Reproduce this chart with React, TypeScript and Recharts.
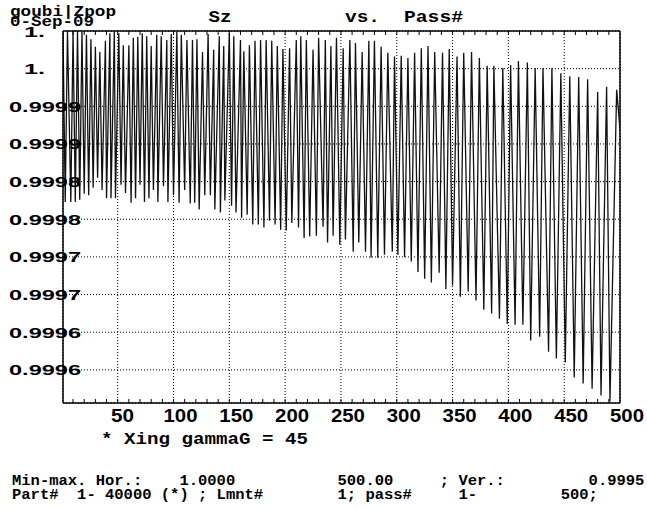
import React from 'react';
import { LineChart, Line, XAxis, YAxis, CartesianGrid, ReferenceLine } from 'recharts';

const passes = [
  1, 3, 5, 8, 10, 12, 14, 16, 18, 20, 22, 24, 26, 28, 30, 32, 34, 36, 39, 40, 43,
  44, 47, 48, 51, 53, 55, 57, 60, 62, 64, 66, 68, 70, 72, 74, 76,
  78, 80, 82, 85, 86, 89, 91, 94, 95, 98, 100, 103, 105, 107, 110, 112, 115, 117, 119, 121,
  123, 126, 128, 131, 133, 136, 137, 141, 142, 145, 146, 150, 152, 154, 156, 160,
  161, 163, 166, 168, 171, 173, 176, 178, 181, 183, 186, 188, 191, 193, 196, 198, 201, 204, 206, 210,
  212, 214, 217, 219, 222, 225, 228, 230, 234, 236, 238, 241,
  243, 246, 249, 252, 254, 258, 261, 263, 266, 269, 272, 275, 277, 280, 283, 286, 289, 292, 296, 298,
  301, 304, 307, 310, 313, 316, 319, 322, 325, 328, 331, 334, 338, 341, 344, 347, 350, 354, 357, 360,
  364, 367, 371, 374, 378, 381, 385, 387, 392, 395, 399, 402, 406, 409, 413, 417, 420, 424, 428, 431,
  436, 439, 443, 447, 451, 455, 459, 463, 467, 471, 475, 480, 483, 488, 491, 497, 500,
];

const szValues = [
  1.0,
  0.999773, 1.0, 0.999773, 1.0, 0.999773, 1.0, 0.999776, 0.999999, 0.999784, 0.999995,
  0.999782, 0.999989, 0.999792, 0.999979, 0.999805, 0.999972, 0.999789, 0.999987, 0.999778, 0.999997,
  0.999778, 1.0, 0.999778, 0.999997, 0.999796, 0.999981, 0.999785, 0.999981, 0.999772, 0.999991,
  0.999778, 0.999992, 0.999796, 0.999997, 0.999773, 0.999993,
  0.999778, 0.99998, 0.999789, 0.999995, 0.999773, 0.999993, 0.999794, 0.999988, 0.999773, 0.999996,
  0.999782, 0.999999, 0.999772, 0.999995, 0.999789, 0.999988, 0.999771, 0.999988, 0.999772, 0.999989,
  0.999763, 0.999972, 0.999782, 0.999996, 0.999782, 0.999975, 0.999763, 0.999993, 0.999759, 0.99998,
  0.999775, 0.999997, 0.999768, 0.999993, 0.999759, 0.999988,
  0.999752, 0.999973, 0.999756, 0.999981, 0.999743, 0.999987, 0.999743, 0.999988, 0.999739, 0.999988,
  0.999748, 0.999987, 0.999743, 0.99998, 0.999736, 0.999976, 0.999735, 0.999977, 0.999745, 0.999988,
  0.999739, 0.999993, 0.999725, 0.999988, 0.999727, 0.999975, 0.999728, 0.999991, 0.99974, 0.999988,
  0.999719, 0.99998,
  0.999728, 0.999991, 0.999716, 0.999977, 0.999723, 0.999988, 0.999707, 0.999984, 0.999719, 0.999972,
  0.999707, 0.999987, 0.999699, 0.999987, 0.999699, 0.999979, 0.999703, 0.999971, 0.999707, 0.999966,
  0.999703, 0.999967, 0.9997, 0.999964, 0.999694, 0.999971, 0.99968, 0.999977, 0.999671, 0.99998,
  0.999666, 0.999972, 0.999679, 0.999971, 0.999657, 0.999976, 0.999662, 0.999966, 0.999647, 0.999971,
  0.999654, 0.999972, 0.999642, 0.999964, 0.99963, 0.999954, 0.999625, 0.999954, 0.999618, 0.999951,
  0.999611, 0.999955, 0.99961, 0.99996, 0.99961, 0.999958, 0.999589, 0.999951, 0.999594, 0.999951,
  0.999574, 0.999951, 0.999565, 0.999944, 0.99956, 0.99994, 0.99954, 0.999939, 0.999532, 0.999936,
  0.999525, 0.999919, 0.999516, 0.999926, 0.999508, 0.999922,
  0.999869,
];

const xTicks = [50, 100, 150, 200, 250, 300, 350, 400, 450, 500];
const xTickLabels = ['50', '100', '150', '200', '250', '300', '350', '400', '450', '500'];
const yTicks = [1.0, 0.99995, 0.9999, 0.99985, 0.9998, 0.99975, 0.9997, 0.99965, 0.9996, 0.99955];
const yTickLabels = ['1.', '1.', '0.9999', '0.9999', '0.9998', '0.9998', '0.9997', '0.9997', '0.9996', '0.9996'];
const xDomain = [1, 500];
const yDomain = [0.999506, 1.0];

// footer text pieces: [column, text]
const footerLine1: [number, string][] = [
  [0, 'Min-max. Hor.:'], [18, '1.0000'], [35, '500.00'], [46, '; Ver.:'], [62, '0.9995'],
];
const footerLine2: [number, string][] = [
  [0, 'Part#'], [7, '1-'], [10, '40000'], [16, '(*)'], [20, ';'], [22, 'Lmnt#'],
  [35, '1;'], [38, 'pass#'], [48, '1-'], [59, '500;'],
];

const xMinor: number[] = [];
for (let v = 10; v <= 490; v += 10) xMinor.push(v);
const yMinor: number[] = [];
for (let k = 51; k <= 99; k++) yMinor.push(Math.round((0.9995 + k * 0.00001) * 1e6) / 1e6);

const data = passes.map((p, i) => ({ pass: p, sz: szValues[i] }));

// plot frame (layout, not data)
const PL = 63, PR = 620, PT = 31, PB = 403;

const MONO = '"Liberation Mono", "DejaVu Sans Mono", monospace';
const SANS = '"Liberation Sans", Arial, sans-serif';

const YTick = (props: any) => {
  const { y, payload } = props;
  const i = yTicks.findIndex((v) => Math.abs(v - payload.value) < 1e-9);
  const label = i >= 0 ? yTickLabels[i] : '';
  const short = label.length <= 2;
  return (
    <text x={short ? 24 : 9} y={y + 5.5} textLength={short ? 21 : 72} lengthAdjust="spacingAndGlyphs"
      fontFamily={SANS} fontWeight="bold" fontSize={15.5} fill="#000">{label}</text>
  );
};

const XTick = (props: any) => {
  const { x, payload } = props;
  const i = xTicks.indexOf(payload.value);
  const label = i >= 0 ? xTickLabels[i] : '';
  const n = label.length;
  return (
    <text x={x - (n === 2 ? 6.7 : 10)} y={421.5} textLength={n === 2 ? 23 : 34} lengthAdjust="spacingAndGlyphs"
      fontFamily={SANS} fontWeight="bold" fontSize={18} fill="#000">{label}</text>
  );
};

const YMinorTick = (props: any) => {
  const { y } = props;
  if (y < PT || y > PB) return <g />;
  return (
    <g>
      <line x1={PL} x2={PL + 4} y1={y} y2={y} stroke="#000" strokeWidth={1} />
      <line x1={PR} x2={PR - 4} y1={y} y2={y} stroke="#000" strokeWidth={1} />
    </g>
  );
};

const XMinorTick = (props: any) => {
  const { x } = props;
  if (x < PL || x > PR) return <g />;
  return (
    <g>
      <line x1={x} x2={x} y1={PB} y2={PB - 4} stroke="#000" strokeWidth={1} />
      <line x1={x} x2={x} y1={PT} y2={PT + 4} stroke="#000" strokeWidth={1} />
    </g>
  );
};

const T = (p: { x: number; y: number; w: number; s?: number; children: string }) => (
  <text x={p.x} y={p.y} textLength={p.w} lengthAdjust="spacingAndGlyphs" fontFamily={MONO}
    fontWeight="bold" fontSize={p.s ?? 14} fill="#000">{p.children}</text>
);

const CELL = 9.3;
const FooterLine = ({ items, y }: { items: [number, string][]; y: number }) => (
  <g>
    {items.map(([col, s], i) => (
      <T key={i} x={12 + col * CELL} y={y} w={s.length * CELL}>{s}</T>
    ))}
  </g>
);

const frame = { stroke: '#000', strokeWidth: 1.5 };

export default function App() {
  return (
    <div style={{ position: 'relative', width: 647, height: 508, background: '#fff' }}>
      <style>{'body{margin:0;background:#fff}'}</style>
      <LineChart width={647} height={508} data={data} margin={{ top: PT, right: 647 - PR, bottom: 508 - PB - 30, left: PL - 60 }}>
        <CartesianGrid stroke="#000" strokeDasharray="1 2" strokeWidth={1} />
        <XAxis dataKey="pass" type="number" domain={xDomain} ticks={xTicks} interval={0} allowDataOverflow
          height={30} tickLine={false} axisLine={frame} tick={<XTick />} />
        <XAxis xAxisId="minor" dataKey="pass" type="number" domain={xDomain} ticks={xMinor} interval={0} allowDataOverflow
          height={1} mirror orientation="top" tickLine={false} axisLine={false} tick={<XMinorTick />} />
        <YAxis type="number" domain={yDomain} ticks={yTicks} interval={0} allowDataOverflow width={60}
          tickLine={false} axisLine={frame} tick={<YTick />} />
        <YAxis yAxisId="minor" type="number" domain={yDomain} ticks={yMinor} interval={0} allowDataOverflow width={1}
          mirror orientation="right" tickLine={false} axisLine={false} tick={<YMinorTick />} />
        <ReferenceLine y={1.0} stroke="#000" strokeWidth={1.5} />
        <ReferenceLine x={500} stroke="#000" strokeWidth={1.5} />
        <Line xAxisId="minor" yAxisId="minor" dataKey="sz" type="linear" stroke="none" dot={false}
          isAnimationActive={false} legendType="none" />
        <Line dataKey="sz" type="linear" stroke="#111" strokeWidth={1.3} dot={false} isAnimationActive={false} />
      </LineChart>
      <svg width={647} height={508} style={{ position: 'absolute', left: 0, top: 0, pointerEvents: 'none' }}>
        <T x={10} y={15.5} w={106}>goubi|Zpop</T>
        <T x={10} y={25.5} w={84}>0-Sep-09</T>
        <T x={208.5} y={21.5} w={23} s={16}>Sz</T>
        <T x={345} y={21.5} w={35} s={16}>vs.</T>
        <T x={404} y={21.5} w={59} s={16}>Pass#</T>
        <T x={101} y={444} w={207} s={16}>* Xing gammaG = 45</T>
        <FooterLine items={footerLine1} y={485} />
        <FooterLine items={footerLine2} y={499} />
      </svg>
    </div>
  );
}
